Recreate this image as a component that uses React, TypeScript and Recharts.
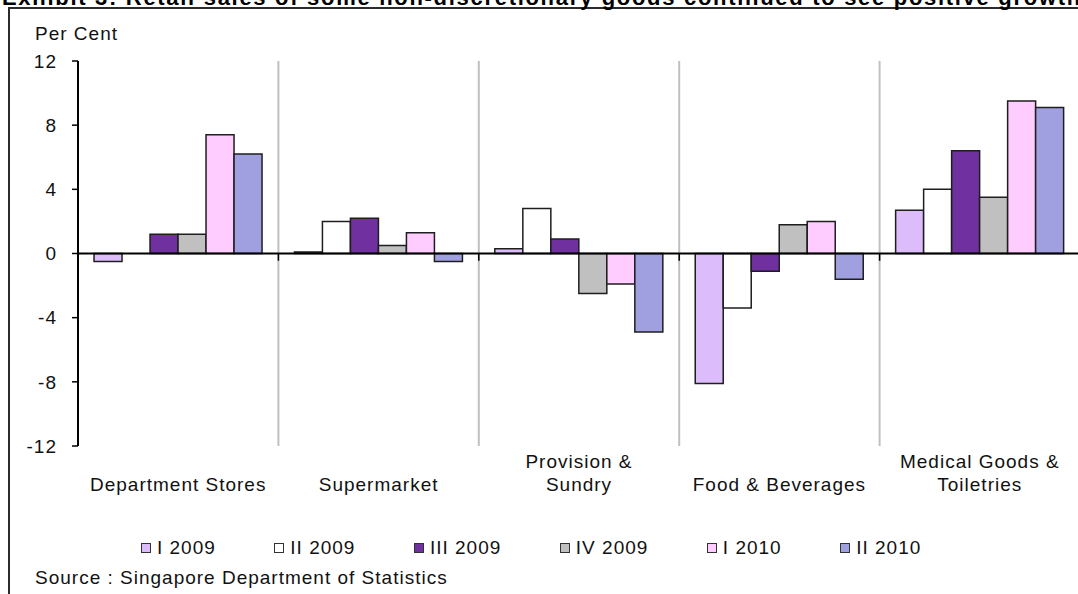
import React from 'react';
import {BarChart, Bar, XAxis, YAxis, ReferenceLine, Legend} from 'recharts';

// retail sales growth by quarter, per cent
const categories = [
     'Department Stores',
     'Supermarket',
     'Provision &\nSundry',
     'Food & Beverages',
     'Medical Goods &\nToiletries',
];
const seriesNames = ['I 2009', 'II 2009', 'III 2009', 'IV 2009', 'I 2010', 'II 2010'];
const i2009 = [-0.5, 0.1, 0.3, -8.1, 2.7];
const ii2009 = [null, 2.0, 2.8, -3.4, 4.0];
const iii2009 = [1.2, 2.2, 0.9, -1.1, 6.4];
const iv2009 = [1.2, 0.5, -2.5, 1.8, 3.5];
const i2010 = [7.4, 1.3, -1.9, 2.0, 9.5];
const ii2010 = [6.2, -0.5, -4.9, -1.6, 9.1];
const yTicks = [-12, -8, -4, 0, 4, 8, 12];

const COLORS = ['#dcbcfa', '#ffffff', '#7030a0', '#c0c0c0', '#ffccff', '#a0a0e0'];
const FONT = '"Liberation Sans", Arial, sans-serif';

const seriesValues = [i2009, ii2009, iii2009, iv2009, i2010, ii2010];
const data = categories.map((name, i) => {
     const row: Record<string, any> = {name};
     seriesNames.forEach((s, j) => {
          row[s] = seriesValues[j][i];
     });
     return row;
});

const CategoryTick = (props: any) => {
     const {x, y, payload} = props;
     const lines = String(payload.value).split('\n');
     return (
          <text
               x={x}
               y={y + 45 - (lines.length - 1) * 23}
               textAnchor="middle"
               fontSize={19}
               letterSpacing={1}
               fill="#111"
               fontFamily={FONT}
          >
               {lines.map((line, i) => (
                    <tspan key={i} x={x} dy={i === 0 ? 0 : 23}>
                         {line}
                    </tspan>
               ))}
          </text>
     );
};

// legend keeps series order (recharts would sort it by name)
const LegendRow = () => (
     <div
          style={{
               display: 'flex',
               alignItems: 'center',
               height: 24,
               paddingLeft: 141,
               fontFamily: FONT,
               fontSize: 19,
               letterSpacing: 1,
               color: '#111',
          }}
     >
          {seriesNames.map((name, i) => (
               <div key={name} style={{display: 'flex', alignItems: 'center', marginRight: 58.5}}>
                    <span
                         style={{
                              width: 8,
                              height: 8,
                              border: '1px solid #333',
                              background: COLORS[i],
                              marginRight: 6,
                         }}
                    />
                    <span>{name}</span>
               </div>
          ))}
     </div>
);

const App = () => {
     return (
          <div
               style={{
                    position: 'absolute',
                    left: 0,
                    top: 0,
                    width: 1078,
                    height: 594,
                    overflow: 'hidden',
                    background: '#fff',
                    fontFamily: FONT,
               }}
          >
               {/* outer frame, runs past the right and bottom edges */}
               <div
                    style={{
                         position: 'absolute',
                         left: 8,
                         top: 7,
                         width: 1200,
                         height: 700,
                         border: '2px solid #2b2b2b',
                    }}
               />
               <div
                    style={{
                         position: 'absolute',
                         left: 2,
                         top: -15,
                         fontSize: 22,
                         lineHeight: '26px',
                         fontWeight: 'bold',
                         letterSpacing: 1.7,
                         whiteSpace: 'nowrap',
                         color: '#000',
                    }}
               >
                    Exhibit 3: Retail sales of some non-discretionary goods continued to see positive growth
               </div>
               <div
                    style={{
                         position: 'absolute',
                         left: 35,
                         top: 23,
                         fontSize: 19,
                         lineHeight: '22px',
                         letterSpacing: 1,
                         color: '#111',
                    }}
               >
                    Per Cent
               </div>
               <div style={{position: 'absolute', left: 0, top: 0}}>
                    <BarChart
                         width={1080}
                         height={594}
                         data={data}
                         margin={{top: 61, right: 0, bottom: 34, left: 0}}
                         barCategoryGap="8%"
                         barGap={0}
                    >
                         <XAxis
                              dataKey="name"
                              axisLine={false}
                              tickLine={false}
                              tickSize={0}
                              tickMargin={0}
                              interval={0}
                              height={90}
                              tick={<CategoryTick />}
                         />
                         <YAxis
                              width={78}
                              domain={[-12, 12]}
                              ticks={yTicks}
                              interval={0}
                              axisLine={{stroke: '#000', strokeWidth: 2}}
                              tickLine={{stroke: '#000', strokeWidth: 1.5}}
                              tickSize={6}
                              tickMargin={15}
                              tick={{fontSize: 19, fill: '#111', fontFamily: FONT, letterSpacing: 1}}
                         />
                         {categories.slice(0, 4).map((c) => (
                              <ReferenceLine
                                   key={`grid-${c}`}
                                   x={c}
                                   position="end"
                                   stroke="#c0c0c0"
                                   strokeWidth={2}
                              />
                         ))}
                         {seriesNames.map((s, i) => (
                              <Bar
                                   key={s}
                                   dataKey={s}
                                   fill={COLORS[i]}
                                   stroke="#1e1e1e"
                                   strokeWidth={1.5}
                                   isAnimationActive={false}
                              />
                         ))}
                         <ReferenceLine y={0} stroke="#000" strokeWidth={2} />
                         {categories.slice(0, 4).map((c) => (
                              <ReferenceLine
                                   key={`tick-${c}`}
                                   segment={[
                                        {x: c, y: 0},
                                        {x: c, y: -0.45},
                                   ]}
                                   position="end"
                                   stroke="#000"
                                   strokeWidth={1.5}
                              />
                         ))}
                         <Legend
                              verticalAlign="bottom"
                              content={<LegendRow />}
                              wrapperStyle={{left: 0, width: 1078, bottom: 34}}
                         />
                    </BarChart>
               </div>
               <div
                    style={{
                         position: 'absolute',
                         left: 35,
                         top: 567,
                         fontSize: 19,
                         lineHeight: '22px',
                         letterSpacing: 1,
                         color: '#111',
                         whiteSpace: 'nowrap',
                    }}
               >
                    Source : Singapore Department of Statistics
               </div>
          </div>
     );
};

export default App;
